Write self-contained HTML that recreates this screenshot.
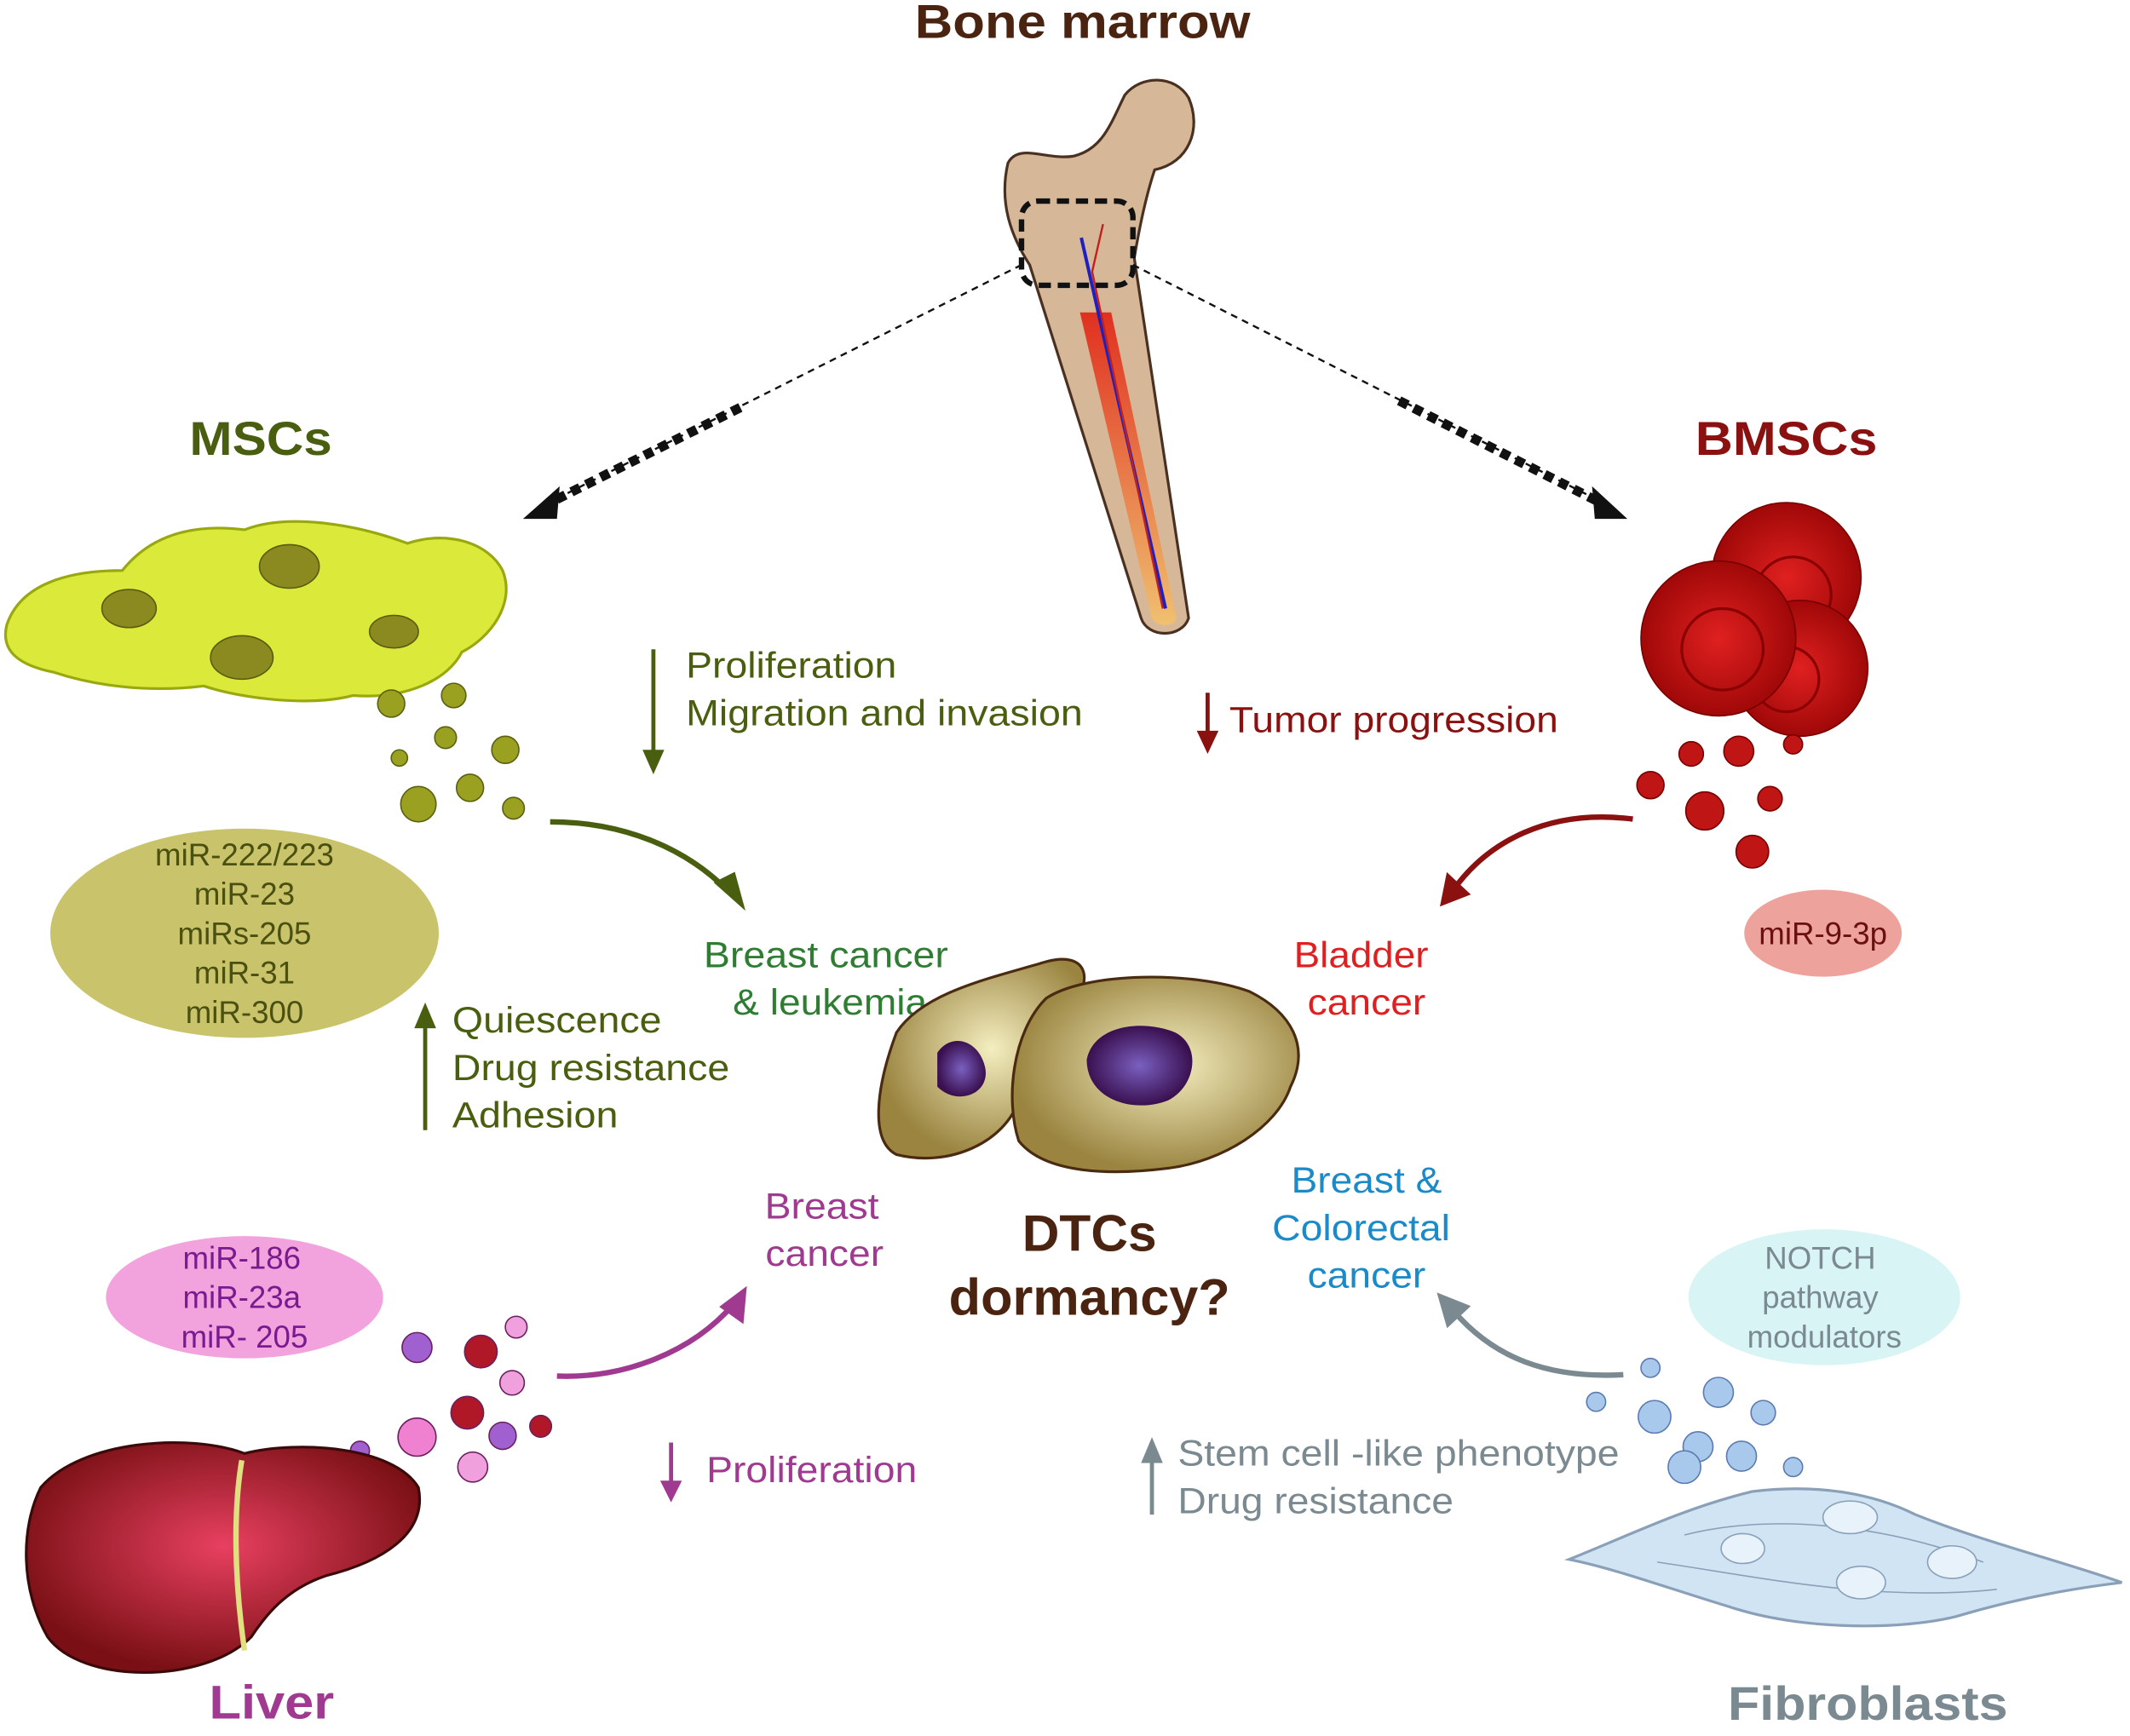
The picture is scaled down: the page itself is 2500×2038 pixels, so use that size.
<!DOCTYPE html>
<html><head><meta charset="utf-8"><style>
html,body{margin:0;padding:0;background:#fff;}
svg{display:block;}
text{font-family:"Liberation Sans",Arial,sans-serif;}
</style></head><body>
<svg width="2500" height="2038" viewBox="0 0 1568 1278" preserveAspectRatio="none" xmlns="http://www.w3.org/2000/svg">
<defs>
<radialGradient id="rc" cx="50%" cy="50%" r="50%"><stop offset="0" stop-color="#e02020"/><stop offset="1" stop-color="#a00808"/></radialGradient>
<radialGradient id="lv" cx="50%" cy="45%" r="55%"><stop offset="0" stop-color="#e84060"/><stop offset="1" stop-color="#7a1015"/></radialGradient>
<radialGradient id="dtc" cx="55%" cy="45%" r="55%"><stop offset="0" stop-color="#f4eec0"/><stop offset="1" stop-color="#9a8440"/></radialGradient>
<radialGradient id="nuc" cx="50%" cy="50%" r="50%"><stop offset="0" stop-color="#7a60c0"/><stop offset="1" stop-color="#3a1050"/></radialGradient>
<linearGradient id="mar" x1="0" y1="0" x2="0" y2="1"><stop offset="0" stop-color="#e03020"/><stop offset="1" stop-color="#f0c070"/></linearGradient>
</defs>

<text x="797" y="28" font-size="35" font-weight="bold" fill="#4a2410" text-anchor="middle" textLength="247" lengthAdjust="spacingAndGlyphs">Bone marrow</text>

<!-- Bone -->
<path d="M742,120 C735,150 745,175 758,195 L840,455 C845,470 870,470 875,455 L835,190 C840,160 845,140 850,125 C875,120 885,95 875,72 C865,55 840,55 828,70 C818,90 812,110 790,115 C770,118 750,105 742,120Z" fill="#d6b898" stroke="#4a3020" stroke-width="2"/>
<path d="M795,230 L848,455 C852,462 864,462 866,455 L818,230Z" fill="url(#mar)"/>
<path d="M796,175 L858,448" stroke="#2020c0" stroke-width="2.5" fill="none"/>
<path d="M812,165 L804,200 L856,448" stroke="#c02020" stroke-width="1.5" fill="none"/>
<rect x="752" y="148" width="82" height="62" rx="12" fill="none" stroke="#111" stroke-width="4" stroke-dasharray="9,5"/>

<line x1="752" y1="195" x2="400" y2="372" stroke="#111" stroke-width="1.5" stroke-dasharray="5,4"/>
<line x1="545" y1="300" x2="405" y2="370" stroke="#111" stroke-width="7" stroke-dasharray="7,5"/>
<path d="M385,382 L412,358 L410,382Z" fill="#111"/>
<line x1="834" y1="195" x2="1180" y2="370" stroke="#111" stroke-width="1.5" stroke-dasharray="5,4"/>
<line x1="1030" y1="295" x2="1178" y2="370" stroke="#111" stroke-width="7" stroke-dasharray="7,5"/>
<path d="M1198,382 L1172,358 L1174,382Z" fill="#111"/>

<!-- MSCs -->
<text x="192" y="335" font-size="35" font-weight="bold" fill="#4a5e10" text-anchor="middle" textLength="105" lengthAdjust="spacingAndGlyphs">MSCs</text>
<path d="M5,460 C15,430 50,420 90,420 C110,395 140,385 180,390 C210,378 260,385 300,400 C330,390 360,400 370,420 C380,445 360,470 340,480 C330,500 300,515 260,512 C230,520 180,515 150,505 C110,510 70,505 40,495 C15,490 0,480 5,460Z" fill="#dbe93a" stroke="#9aa810" stroke-width="2"/>
<ellipse cx="213" cy="417" rx="22" ry="16" fill="#8a8a20" stroke="#5a5a10"/>
<ellipse cx="178" cy="484" rx="23" ry="16" fill="#8a8a20" stroke="#5a5a10"/>
<ellipse cx="95" cy="448" rx="20" ry="14" fill="#8a8a20" stroke="#5a5a10"/>
<ellipse cx="290" cy="465" rx="18" ry="12" fill="#8a8a20" stroke="#5a5a10"/>
<g fill="#9aa020" stroke="#5a6010">
<circle cx="288" cy="518" r="10"/><circle cx="334" cy="512" r="9"/><circle cx="328" cy="543" r="8"/><circle cx="372" cy="552" r="10"/><circle cx="294" cy="558" r="6"/><circle cx="308" cy="592" r="13"/><circle cx="346" cy="580" r="10"/><circle cx="378" cy="595" r="8"/>
</g>
<ellipse cx="180" cy="687" rx="143" ry="77" fill="#c9c46c"/>
<g font-size="23" fill="#4a5010" text-anchor="middle">
<text x="180" y="637">miR-222/223</text><text x="180" y="666">miR-23</text><text x="180" y="695">miRs-205</text><text x="180" y="724">miR-31</text><text x="180" y="753">miR-300</text>
</g>

<line x1="481" y1="478" x2="481" y2="555" stroke="#4a5e10" stroke-width="3"/>
<path d="M473,552 L489,552 L481,570Z" fill="#4a5e10"/>
<g font-size="27" fill="#4a5e10"><text x="505" y="499" textLength="155" lengthAdjust="spacingAndGlyphs">Proliferation</text><text x="505" y="534" textLength="292" lengthAdjust="spacingAndGlyphs">Migration and invasion</text></g>
<path d="M405,605 C460,605 505,625 535,655" stroke="#4a5e10" stroke-width="4" fill="none"/>
<path d="M528,650 L546,666 L540,644Z" fill="#4a5e10" stroke="#4a5e10" stroke-width="3"/>

<line x1="889" y1="510" x2="889" y2="540" stroke="#8b1010" stroke-width="3"/>
<path d="M881,538 L897,538 L889,555Z" fill="#8b1010"/>
<text x="905" y="539" font-size="27" fill="#8b1010" textLength="242" lengthAdjust="spacingAndGlyphs">Tumor progression</text>

<!-- BMSCs -->
<text x="1315" y="335" font-size="35" font-weight="bold" fill="#8b1010" text-anchor="middle" textLength="134" lengthAdjust="spacingAndGlyphs">BMSCs</text>
<circle cx="1315" cy="425" r="55" fill="url(#rc)" stroke="#700"/>
<circle cx="1320" cy="438" r="28" fill="none" stroke="#800" stroke-width="2"/>
<circle cx="1325" cy="492" r="50" fill="url(#rc)" stroke="#700"/>
<circle cx="1315" cy="500" r="24" fill="none" stroke="#800" stroke-width="2"/>
<circle cx="1265" cy="470" r="57" fill="url(#rc)" stroke="#700"/>
<circle cx="1268" cy="478" r="30" fill="none" stroke="#800" stroke-width="2"/>
<g fill="#c01515" stroke="#700">
<circle cx="1245" cy="555" r="9"/><circle cx="1280" cy="553" r="11"/><circle cx="1215" cy="578" r="10"/><circle cx="1255" cy="597" r="14"/><circle cx="1303" cy="588" r="9"/><circle cx="1290" cy="627" r="12"/><circle cx="1320" cy="548" r="7"/>
</g>
<path d="M1202,603 C1140,595 1095,620 1070,655" stroke="#8b1010" stroke-width="4" fill="none"/>
<path d="M1062,665 L1066,645 L1080,658Z" fill="#8b1010" stroke="#8b1010" stroke-width="3"/>
<ellipse cx="1342" cy="687" rx="58" ry="32" fill="#eea29c"/>
<text x="1342" y="695" font-size="23" fill="#6a1010" text-anchor="middle">miR-9-3p</text>

<g font-size="27" fill="#2e7d32" text-anchor="middle"><text x="608" y="712" textLength="180" lengthAdjust="spacingAndGlyphs">Breast cancer</text><text x="611" y="747" textLength="143" lengthAdjust="spacingAndGlyphs">&amp; leukemia</text></g>
<g font-size="27" fill="#e02020" text-anchor="middle"><text x="1002" y="712" textLength="99" lengthAdjust="spacingAndGlyphs">Bladder</text><text x="1006" y="747" textLength="87" lengthAdjust="spacingAndGlyphs">cancer</text></g>

<!-- DTC cells -->
<path d="M660,760 C680,730 730,720 770,708 C800,700 805,720 790,740 C780,770 760,780 750,810 C740,840 700,860 660,850 C640,840 645,800 660,760Z" fill="url(#dtc)" stroke="#4a2a10" stroke-width="2"/>
<path d="M690,775 C700,760 720,765 725,785 C730,805 705,815 690,800Z" fill="url(#nuc)"/>
<path d="M770,735 C800,715 880,715 920,730 C950,745 965,770 950,800 C940,830 900,855 860,860 C820,865 770,865 750,840 C740,810 745,760 770,735Z" fill="url(#dtc)" stroke="#4a2a10" stroke-width="2"/>
<path d="M800,780 C805,755 840,750 865,760 C885,770 880,800 860,810 C835,820 800,810 800,780Z" fill="url(#nuc)"/>

<line x1="313" y1="755" x2="313" y2="832" stroke="#4a5e10" stroke-width="3"/>
<path d="M305,757 L321,757 L313,738Z" fill="#4a5e10"/>
<g font-size="27" fill="#4a5e10"><text x="333" y="760" textLength="154" lengthAdjust="spacingAndGlyphs">Quiescence</text><text x="333" y="795" textLength="204" lengthAdjust="spacingAndGlyphs">Drug resistance</text><text x="333" y="830" textLength="122" lengthAdjust="spacingAndGlyphs">Adhesion</text></g>

<g font-size="27" fill="#a03a90" text-anchor="middle"><text x="605" y="897" textLength="84" lengthAdjust="spacingAndGlyphs">Breast</text><text x="607" y="932" textLength="87" lengthAdjust="spacingAndGlyphs">cancer</text></g>
<g font-size="38" font-weight="bold" fill="#4a2410" text-anchor="middle"><text x="802" y="921" textLength="99" lengthAdjust="spacingAndGlyphs">DTCs</text><text x="802" y="968" textLength="207" lengthAdjust="spacingAndGlyphs">dormancy?</text></g>
<g font-size="27" fill="#1a8ac8" text-anchor="middle"><text x="1006" y="878" textLength="111" lengthAdjust="spacingAndGlyphs">Breast &amp;</text><text x="1002" y="913" textLength="131" lengthAdjust="spacingAndGlyphs">Colorectal</text><text x="1006" y="948" textLength="87" lengthAdjust="spacingAndGlyphs">cancer</text></g>

<!-- Liver side -->
<ellipse cx="180" cy="955" rx="102" ry="45" fill="#f2a2dc"/>
<g font-size="23" fill="#7a1a90" text-anchor="middle"><text x="178" y="934">miR-186</text><text x="178" y="963">miR-23a</text><text x="180" y="992">miR- 205</text></g>
<g stroke="#6a2060">
<circle cx="380" cy="977" r="8" fill="#f0a0dc"/><circle cx="354" cy="995" r="12" fill="#b01828"/><circle cx="307" cy="992" r="11" fill="#a060d0"/><circle cx="377" cy="1018" r="9" fill="#f0a0dc"/><circle cx="344" cy="1040" r="12" fill="#b01828"/><circle cx="307" cy="1058" r="14" fill="#f080d0"/><circle cx="370" cy="1057" r="10" fill="#a060d0"/><circle cx="398" cy="1050" r="8" fill="#b01828"/><circle cx="348" cy="1080" r="11" fill="#f0a0dc"/><circle cx="265" cy="1068" r="7" fill="#a060d0"/>
</g>
<path d="M410,1013 C460,1015 510,995 540,960" stroke="#a03a90" stroke-width="4" fill="none"/>
<path d="M548,950 L546,972 L532,962Z" fill="#a03a90" stroke="#a03a90" stroke-width="3"/>
<line x1="494" y1="1062" x2="494" y2="1092" stroke="#a03a90" stroke-width="3"/>
<path d="M486,1090 L502,1090 L494,1106Z" fill="#a03a90"/>
<text x="520" y="1091" font-size="27" fill="#a03a90" textLength="155" lengthAdjust="spacingAndGlyphs">Proliferation</text>

<path d="M30,1095 C60,1060 140,1055 180,1070 C220,1060 290,1065 308,1095 C315,1130 280,1150 240,1160 C210,1170 195,1190 185,1205 C150,1240 60,1240 35,1205 C15,1170 15,1125 30,1095Z" fill="url(#lv)" stroke="#3a0a0a" stroke-width="2"/>
<path d="M178,1075 C172,1110 172,1160 180,1215" stroke="#e0e080" stroke-width="4" fill="none"/>
<text x="200" y="1265" font-size="35" font-weight="bold" fill="#a03a90" text-anchor="middle" textLength="92" lengthAdjust="spacingAndGlyphs">Liver</text>

<!-- Fibroblasts -->
<ellipse cx="1343" cy="955" rx="100" ry="50" fill="#d8f4f4"/>
<g font-size="23" fill="#7a8a90" text-anchor="middle"><text x="1340" y="934">NOTCH</text><text x="1340" y="963">pathway</text><text x="1343" y="992">modulators</text></g>
<g fill="#a8c8ec" stroke="#5a7ab0">
<circle cx="1215" cy="1007" r="7"/><circle cx="1265" cy="1025" r="11"/><circle cx="1175" cy="1032" r="7"/><circle cx="1218" cy="1043" r="12"/><circle cx="1298" cy="1040" r="9"/><circle cx="1250" cy="1065" r="11"/><circle cx="1282" cy="1072" r="11"/><circle cx="1240" cy="1080" r="12"/><circle cx="1320" cy="1080" r="7"/>
</g>
<path d="M1195,1012 C1140,1015 1100,1000 1070,965" stroke="#7a8a90" stroke-width="4" fill="none"/>
<path d="M1060,954 L1080,962 L1066,975Z" fill="#7a8a90" stroke="#7a8a90" stroke-width="3"/>
<line x1="848" y1="1075" x2="848" y2="1115" stroke="#7a8a90" stroke-width="3"/>
<path d="M840,1077 L856,1077 L848,1058Z" fill="#7a8a90"/>
<g font-size="27" fill="#7a8a90"><text x="867" y="1079" textLength="325" lengthAdjust="spacingAndGlyphs">Stem cell -like phenotype</text><text x="867" y="1114" textLength="203" lengthAdjust="spacingAndGlyphs">Drug resistance</text></g>
<path d="M1155,1148 C1200,1130 1240,1110 1290,1098 C1340,1092 1380,1100 1410,1115 C1460,1135 1520,1150 1562,1165 C1520,1170 1480,1178 1440,1190 C1400,1200 1330,1200 1280,1185 C1230,1170 1190,1155 1155,1148Z" fill="#d0e4f4" stroke="#8aa0b8" stroke-width="2"/>
<path d="M1240,1130 C1300,1115 1380,1120 1460,1150" stroke="#8aa0b8" fill="none"/>
<path d="M1220,1150 C1290,1160 1380,1180 1470,1170" stroke="#8aa0b8" fill="none"/>
<ellipse cx="1362" cy="1117" rx="20" ry="12" fill="#e8f2fa" stroke="#8aa0b8"/>
<ellipse cx="1283" cy="1140" rx="16" ry="11" fill="#e8f2fa" stroke="#8aa0b8"/>
<ellipse cx="1437" cy="1150" rx="18" ry="12" fill="#e8f2fa" stroke="#8aa0b8"/>
<ellipse cx="1370" cy="1165" rx="18" ry="12" fill="#e8f2fa" stroke="#8aa0b8"/>
<text x="1375" y="1266" font-size="35" font-weight="bold" fill="#7a8a90" text-anchor="middle" textLength="206" lengthAdjust="spacingAndGlyphs">Fibroblasts</text>
</svg>
</body></html>
